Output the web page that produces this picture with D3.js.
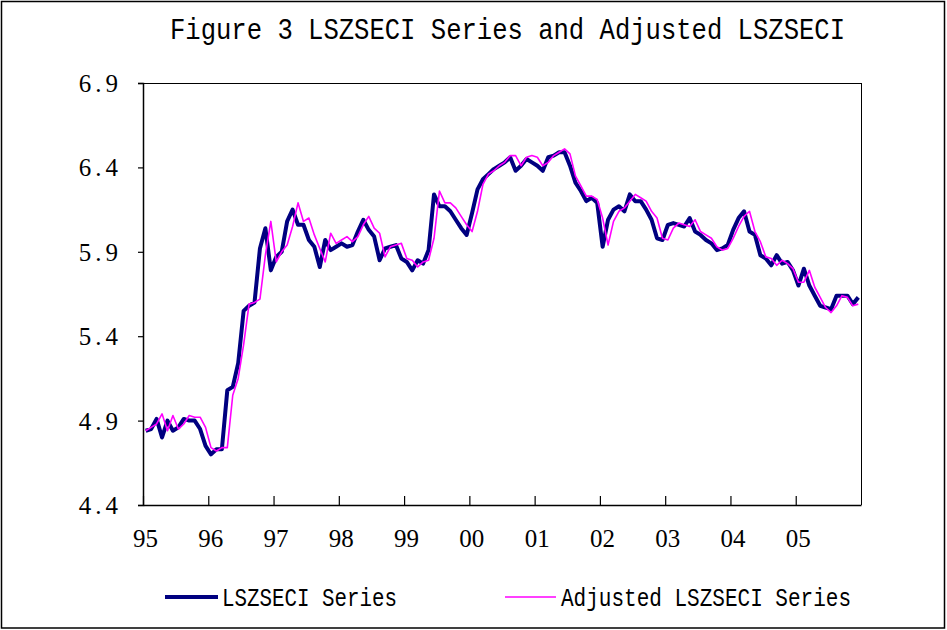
<!DOCTYPE html>
<html>
<head>
<meta charset="utf-8">
<script src="https://cdn.jsdelivr.net/npm/d3@7/dist/d3.min.js"></script>
<style>
  html, body { margin: 0; padding: 0; background: #fff; }
  svg { display: block; }
</style>
</head>
<body>
<svg id="chart" width="947" height="630"></svg>
<script>
// ---- Data (monthly, Jan 1995 .. Dec 2005) ----
const yearLabels = ["95","96","97","98","99","00","01","02","03","04","05"];
const yTicks = [4.4, 4.9, 5.4, 5.9, 6.4, 6.9];

const lszseci = [
  4.84,4.85,4.91,4.80,4.90,4.84,4.86,4.91,4.90,4.90,4.85,4.75,
  4.70,4.73,4.73,5.08,5.10,5.24,5.55,5.58,5.60,5.92,6.04,5.79,
  5.87,5.90,6.08,6.15,6.06,6.06,5.97,5.93,5.81,5.97,5.91,5.93,
  5.95,5.93,5.94,6.02,6.09,6.03,5.99,5.85,5.92,5.93,5.94,5.86,
  5.84,5.79,5.85,5.83,5.91,6.24,6.17,6.17,6.14,6.09,6.04,6.00,
  6.13,6.27,6.33,6.36,6.39,6.41,6.43,6.46,6.38,6.41,6.45,6.43,
  6.41,6.38,6.46,6.47,6.49,6.49,6.41,6.31,6.26,6.20,6.22,6.19,
  5.93,6.09,6.15,6.17,6.14,6.24,6.20,6.20,6.15,6.09,5.98,5.97,
  6.06,6.07,6.06,6.05,6.10,6.02,6.00,5.97,5.95,5.91,5.92,5.94,
  6.03,6.10,6.14,6.02,6.00,5.88,5.86,5.82,5.88,5.83,5.84,5.79,
  5.70,5.80,5.70,5.64,5.58,5.57,5.56,5.64,5.64,5.64,5.59,5.63
];

const adjusted = [
  4.84,4.86,4.88,4.94,4.84,4.93,4.85,4.88,4.93,4.92,4.92,4.86,
  4.74,4.72,4.74,4.74,5.05,5.15,5.35,5.59,5.60,5.62,5.88,6.08,
  5.84,5.90,5.94,6.05,6.19,6.08,6.10,6.00,5.92,5.84,6.01,5.95,
  5.97,5.99,5.96,5.99,6.06,6.11,6.04,6.01,5.87,5.93,5.94,5.95,
  5.86,5.85,5.81,5.84,5.85,5.98,6.26,6.19,6.19,6.16,6.11,6.06,
  6.02,6.14,6.30,6.36,6.38,6.41,6.43,6.47,6.47,6.41,6.46,6.47,
  6.46,6.41,6.43,6.47,6.49,6.51,6.48,6.35,6.29,6.23,6.23,6.21,
  6.10,5.94,6.08,6.14,6.16,6.20,6.24,6.22,6.20,6.14,6.10,5.98,
  5.97,6.04,6.07,6.06,6.05,6.09,6.02,6.00,5.98,5.93,5.91,5.92,
  5.98,6.05,6.11,6.14,6.02,5.96,5.87,5.86,5.82,5.85,5.83,5.80,
  5.72,5.72,5.79,5.69,5.63,5.57,5.54,5.58,5.64,5.63,5.58,5.59
];

const seriesNames = ["LSZSECI Series", "Adjusted LSZSECI Series"];

// ---- Layout ----
const svg = d3.select("#chart");
const W = 947, H = 630;
const mLeft = 143, mRight = 861, mTop = 83, mBottom = 505;

svg.append("rect").attr("x", 0).attr("y", 0).attr("width", W).attr("height", H).attr("fill", "#fff");
svg.append("rect").attr("x", 1.5).attr("y", 1.5).attr("width", W - 4).attr("height", H - 3.5)
  .attr("fill", "none").attr("stroke", "#000").attr("stroke-width", 1.5);

const nMonths = lszseci.length;
const x = d3.scaleLinear().domain([0, nMonths]).range([mLeft, mRight]);
const y = d3.scaleLinear().domain([4.4, 6.9]).range([mBottom, mTop]);

// Plot frame (top & right)
svg.append("line").attr("x1", mLeft).attr("x2", mRight).attr("y1", mTop + 0.5).attr("y2", mTop + 0.5)
  .attr("stroke", "#000").attr("stroke-width", 1);
svg.append("line").attr("x1", mRight + 0.5).attr("x2", mRight + 0.5).attr("y1", mTop).attr("y2", mBottom)
  .attr("stroke", "#000").attr("stroke-width", 1);

// Title
svg.append("text")
  .attr("x", 170).attr("y", 39)
  .attr("textLength", 675).attr("lengthAdjust", "spacingAndGlyphs")
  .style("font-family", "'Liberation Mono', 'DejaVu Sans Mono', monospace")
  .style("font-size", "30px")
  .attr("fill", "#000")
  .text("Figure 3 LSZSECI Series and Adjusted LSZSECI");

// Y axis
const yAxis = d3.axisLeft(y).tickValues(yTicks).tickSize(5).tickPadding(0).tickFormat(d3.format(".1f"));
const gy = svg.append("g").attr("transform", `translate(${mLeft},0)`).call(yAxis);
gy.select(".domain").attr("stroke", "#000").attr("stroke-width", 1.5);
gy.selectAll(".tick line").attr("stroke", "#000").attr("stroke-width", 1.2);
gy.selectAll(".tick text")
  .attr("x", -21)
  .attr("dy", "0.34em")
  .style("font-family", "'Liberation Serif', 'Times New Roman', serif")
  .style("font-size", "25px")
  .style("letter-spacing", "4px")
  .attr("fill", "#000");

// X axis
const xTickVals = yearLabels.map((_, i) => i * 12);
const xAxis = d3.axisBottom(x).tickValues(xTickVals).tickSize(0)
  .tickFormat((d, i) => yearLabels[i]);
const gx = svg.append("g").attr("transform", `translate(0,${mBottom})`).call(xAxis);
gx.select(".domain").attr("stroke", "#000").attr("stroke-width", 1.5);
gx.selectAll(".tick line").attr("y2", -9).attr("stroke", "#000").attr("stroke-width", 1.2);
gx.selectAll(".tick text")
  .attr("x", 2).attr("y", 42).attr("dy", 0)
  .style("font-family", "'Liberation Serif', 'Times New Roman', serif")
  .style("font-size", "25px")
  .attr("fill", "#000");

// Lines
const line = d3.line().x((d, i) => x(i + 0.5)).y(d => y(d));
svg.append("path").datum(lszseci).attr("d", line)
  .attr("fill", "none").attr("stroke", "#000080").attr("stroke-width", 4).attr("stroke-linejoin", "round");
svg.append("path").datum(adjusted).attr("d", line)
  .attr("fill", "none").attr("stroke", "#ff00ff").attr("stroke-width", 1.6).attr("stroke-linejoin", "round");

// Legend
const legend = [
  { name: seriesNames[0], color: "#000080", w: 4, x1: 165, x2: 218, tx: 222, len: 175 },
  { name: seriesNames[1], color: "#ff00ff", w: 1.6, x1: 505, x2: 556, tx: 561, len: 290 }
];
legend.forEach(l => {
  svg.append("line").attr("x1", l.x1).attr("x2", l.x2).attr("y1", 597).attr("y2", 597)
    .attr("stroke", l.color).attr("stroke-width", l.w);
  svg.append("text").attr("x", l.tx).attr("y", 606)
    .attr("textLength", l.len).attr("lengthAdjust", "spacingAndGlyphs")
    .style("font-family", "'Liberation Mono', 'DejaVu Sans Mono', monospace")
    .style("font-size", "26px")
    .attr("fill", "#000")
    .text(l.name);
});
</script>
</body>
</html>
